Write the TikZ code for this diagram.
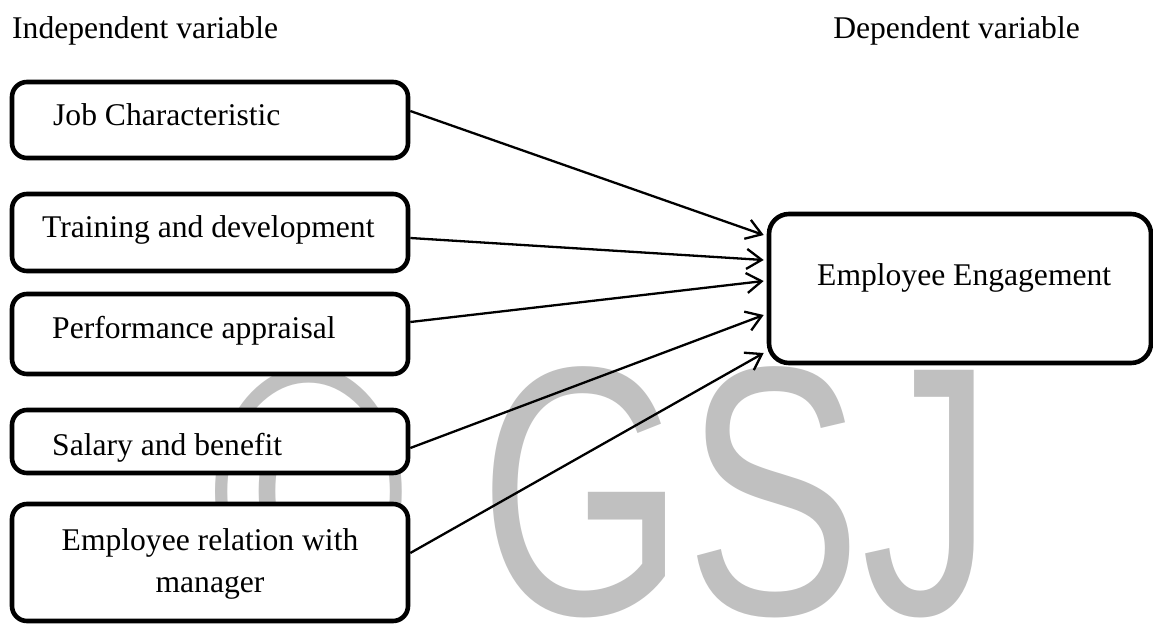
\documentclass[tikz,border=0pt]{standalone}
\usepackage{fontspec}
\usepackage{graphicx}
\setmainfont{Liberation Serif}
\newfontfamily\wmfont{Liberation Sans}
\usetikzlibrary{arrows.meta}
\definecolor{wmgray}{RGB}{192,192,192}
\tikzset{
  box/.style={draw=black, line width=4.6pt, rounded corners=15pt, fill=white, inner sep=0pt},
  lbl/.style={inner sep=0pt, font=\fontsize{31.6}{38}\selectfont},
  arr/.style={line width=2.3pt, -{Straight Barb[length=15pt,width=20pt]}},
}
\begin{document}
\begin{tikzpicture}[x=1pt,y=-1pt]
\useasboundingbox (0,0) rectangle (1153,624);
\fill[white] (0,0) rectangle (1153,624);
% watermark
\node[anchor=base west, inner sep=0pt, text=wmgray, font=\wmfont\fontsize{355}{355}\selectfont] (wm) at (211,614) {\scalebox{0.745}[1]{© GSJ}};
% headings
\node[lbl, anchor=base west] (hind) at (12,38) {Independent variable};
\node[lbl, anchor=base east] (hdep) at (1080,38) {Dependent variable};
% boxes
\node[box, minimum width=396pt, minimum height=76pt] (b1) at (210,120) {};
\node[box, minimum width=396pt, minimum height=77pt] (b2) at (210,232.5) {};
\node[box, minimum width=396pt, minimum height=80pt] (b3) at (210,334) {};
\node[box, minimum width=396pt, minimum height=63pt] (b4) at (210,441.5) {};
\node[box, minimum width=396pt, minimum height=117pt] (b5) at (210,562.5) {};
\node[box, rounded corners=20pt, minimum width=382pt, minimum height=149pt] (emp) at (960,288.5) {};
% texts
\node[lbl, anchor=base west] (t1) at (53,125) {Job Characteristic};
\node[lbl, anchor=base west] (t2) at (42,237) {Training and development};
\node[lbl, anchor=base west] (t3) at (52,338) {Performance appraisal};
\node[lbl, anchor=base west] (t4) at (52,455) {Salary and benefit};
\node[lbl, anchor=base] (t5a) at (210,550) {Employee relation with};
\node[lbl, anchor=base] (t5b) at (210,592) {manager};
\node[lbl, anchor=base west] (te) at (817,285) {Employee Engagement};
% connectors
\draw[arr] ([yshift=9pt]b1.east) -- ([xshift=-3pt,yshift=53.5pt]emp.west);
\draw[arr] ([yshift=-5.5pt]b2.east) -- ([xshift=-3pt,yshift=28.5pt]emp.west);
\draw[arr] ([yshift=12pt]b3.east) -- ([xshift=-3pt,yshift=7.5pt]emp.west);
\draw[arr] ([yshift=-6.5pt]b4.east) -- ([xshift=-3pt,yshift=-26.5pt]emp.west);
\draw[arr] ([yshift=9.5pt]b5.east) -- ([xshift=-3pt,yshift=-64.5pt]emp.west);
\end{tikzpicture}
\end{document}
